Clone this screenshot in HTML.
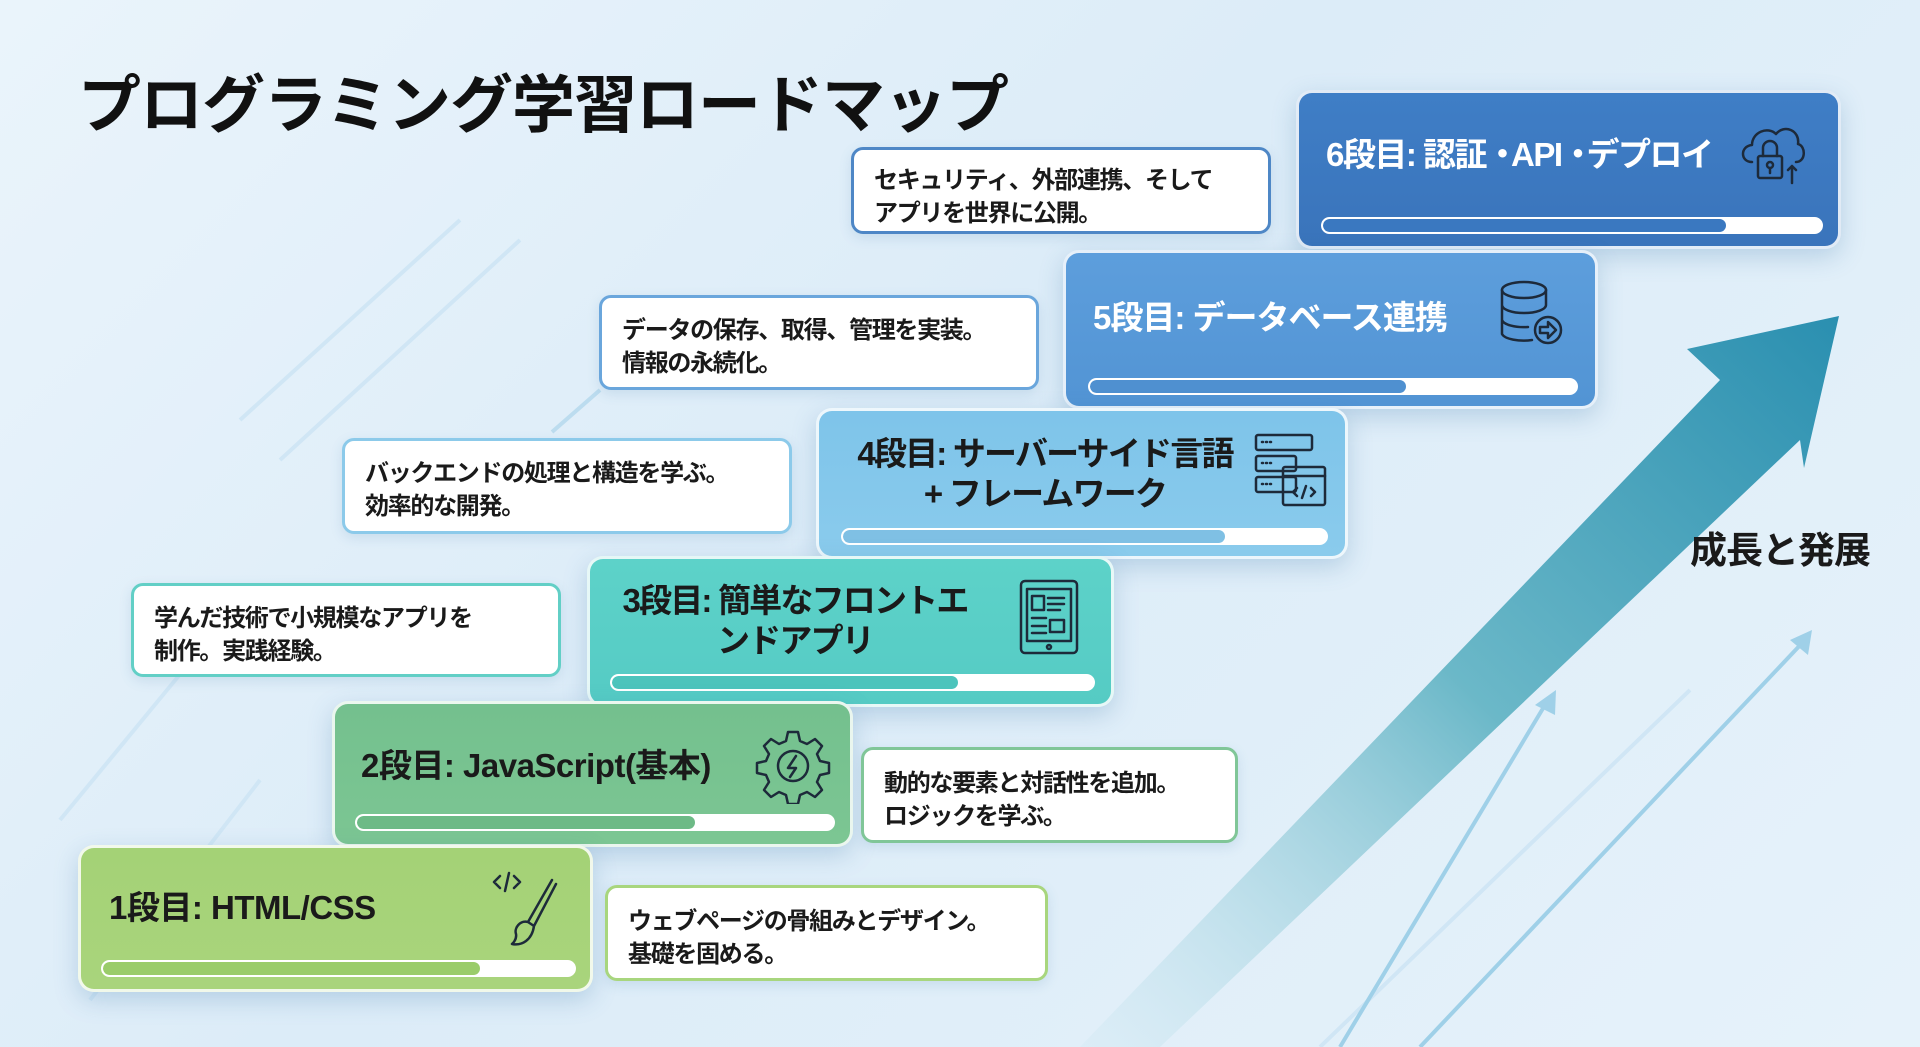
<!DOCTYPE html>
<html><head><meta charset="utf-8"><style>
*{margin:0;padding:0;box-sizing:border-box}
body{width:1920px;height:1047px;overflow:hidden;font-family:"Liberation Sans","Noto Sans CJK JP",sans-serif;font-weight:bold;background:linear-gradient(135deg,#eaf4fb 0%,#dcecf8 45%,#e6f2fa 100%);position:relative}
.abs{position:absolute}
.stage{position:absolute;border-radius:16px;border:3px solid rgba(255,255,255,.85);box-shadow:0 8px 24px rgba(60,120,170,.25)}
.stage .t{position:absolute;font-size:33px;line-height:40px;white-space:nowrap;letter-spacing:-1px}
.bar{position:absolute;height:17px;border-radius:9px;background:#fff;border:2px solid #fff;overflow:hidden}
.bar i{display:block;height:100%;border-radius:8px}
.desc{position:absolute;background:#fff;border-radius:12px;border:3px solid;font-size:24px;line-height:33px;padding:14px 0 0 20px;color:#1a1a1a;box-shadow:0 4px 12px rgba(60,120,170,.15);white-space:nowrap;letter-spacing:-1.3px}
svg.ic{position:absolute;fill:none;stroke:#1d2a3a;stroke-width:2.5;stroke-linecap:round;stroke-linejoin:round}
.n{letter-spacing:-8px}
</style></head><body>
<svg class="abs" style="left:0;top:0" width="1920" height="1047">
<defs>
<linearGradient id="ag" x1="0" y1="1" x2="1" y2="0"><stop offset="0" stop-color="#cfe8f2" stop-opacity=".3"/><stop offset=".5" stop-color="#6bb8c8"/><stop offset="1" stop-color="#2a8fb0"/></linearGradient>
</defs>
<g stroke="#cfe6f5" stroke-width="4" opacity=".9">
<line x1="240" y1="420" x2="460" y2="220"/><line x1="280" y1="460" x2="520" y2="240"/>
<line x1="90" y1="1000" x2="260" y2="780"/><line x1="60" y1="820" x2="200" y2="650"/>
<line x1="1320" y1="1047" x2="1690" y2="690"/>
</g>
<polygon points="1080,1047 1160,1047 1800,440 1804,468 1839,316 1687,349 1720,380" fill="url(#ag)"/>
<g stroke="#9fd0e8" stroke-width="4" fill="#9fd0e8">
<line x1="1340" y1="1047" x2="1548" y2="700"/><polygon points="1556,690 1535,705 1555,715" stroke="none"/>
<line x1="1420" y1="1047" x2="1805" y2="640"/><polygon points="1812,630 1790,640 1808,655" stroke="none"/>
</g>
<line x1="600" y1="390" x2="552" y2="432" stroke="#bcdcef" stroke-width="4"/>
</svg>

<div class="abs" style="left:78px;top:66px;font-size:63px;line-height:80px;color:#111;letter-spacing:-1px">プログラミング学習ロードマップ</div>
<div class="abs" style="left:1690px;top:528px;font-size:37px;line-height:46px;color:#1a1a1a;letter-spacing:-1px">成長と発展</div>

<div class="stage" style="left:1296px;top:90px;width:545px;height:159px;background:linear-gradient(180deg,#3f7ec6,#3a74bb)">
<div class="t" style="left:27px;top:42px;color:#fff;letter-spacing:-1.5px">6段目: 認証<span class="n">・</span>API<span class="n">・</span>デプロイ</div>
<div class="bar" style="left:22px;top:124px;width:502px"><i style="width:81%;background:#3a78c0"></i></div>
</div>
<svg class="ic" style="left:1738px;top:118px" width="70" height="75" viewBox="0 0 70 75"><path d="M14 44 C2 44 2 28 14 27 C14 14 30 8 38 16 C46 6 62 12 60 26 C68 28 68 44 58 44"/><rect x="20" y="38" width="24" height="22" rx="2"/><path d="M25 38 V30 a7 7 0 0 1 14 0 V38"/><circle cx="32" cy="47" r="3"/><path d="M32 50 v5 M54 65 V48 M50 52 l4 -4 4 4"/></svg>

<div class="stage" style="left:1063px;top:250px;width:535px;height:159px;background:linear-gradient(180deg,#5d9edc,#5294d4)">
<div class="t" style="left:27px;top:45px;color:#fff">5段目: データベース連携</div>
<div class="bar" style="left:22px;top:125px;width:490px"><i style="width:65%;background:#4f90d0"></i></div>
</div>
<svg class="ic" style="left:1500px;top:280px" width="70" height="70" viewBox="0 0 70 70"><ellipse cx="24" cy="10" rx="22" ry="8"/><path d="M2 10 V54 a22 8 0 0 0 30 6 M2 25 a22 8 0 0 0 44 0 V10 M2 40 a22 8 0 0 0 26 7"/><circle cx="48" cy="50" r="13"/><path d="M40 47 h8 v-5 l8 8 -8 8 v-5 h-8z"/></svg>

<div class="stage" style="left:816px;top:408px;width:532px;height:151px;background:linear-gradient(180deg,#7ec4ea,#8acbec)">
<div class="t" style="left:26px;top:23px;color:#1a1a1a;width:400px;text-align:center;letter-spacing:-1.8px">4段目: サーバーサイド言語<br>+ フレームワーク</div>
<div class="bar" style="left:22px;top:117px;width:487px"><i style="width:79%;background:#7fc0e4"></i></div>
</div>
<svg class="ic" style="left:1253px;top:432px" width="76" height="76" viewBox="0 0 76 76"><rect x="3" y="3" width="56" height="15" rx="2"/><rect x="3" y="24" width="40" height="15" rx="2"/><rect x="3" y="45" width="40" height="15" rx="2"/><rect x="30" y="35" width="42" height="38" rx="2"/><path d="M30 44 h42 M44 56 l-4 4 4 4 M58 56 l4 4 -4 4 M53 54 l-4 12 M9 10h1 M13 10h1 M17 10h1 M9 31h1 M13 31h1 M17 31h1 M9 52h1 M13 52h1 M17 52h1"/></svg>

<div class="stage" style="left:587px;top:556px;width:527px;height:151px;background:linear-gradient(180deg,#5dd2c9,#55cbc4)">
<div class="t" style="left:25px;top:22px;color:#1a1a1a;width:360px;text-align:center;letter-spacing:-1.8px">3段目: 簡単なフロントエ<br>ンドアプリ</div>
<div class="bar" style="left:20px;top:115px;width:485px"><i style="width:72%;background:#4cc4bc"></i></div>
</div>
<svg class="ic" style="left:1018px;top:578px" width="64" height="80" viewBox="0 0 64 80"><rect x="3" y="3" width="56" height="72" rx="4"/><rect x="9" y="11" width="44" height="52"/><circle cx="31" cy="69" r="2"/><rect x="14" y="18" width="12" height="14"/><path d="M30 20 h16 M30 26 h16 M30 32 h12 M14 40 h14 M14 48 h14 M14 55 h14"/><rect x="32" y="42" width="14" height="12"/></svg>

<div class="stage" style="left:332px;top:701px;width:521px;height:146px;background:linear-gradient(180deg,#74c08e,#7cc693)">
<div class="t" style="left:26px;top:42px;color:#1a1a1a;letter-spacing:-0.5px">2段目: JavaScript(基本)</div>
<div class="bar" style="left:20px;top:110px;width:480px"><i style="width:71%;background:#6dba86"></i></div>
</div>
<svg class="ic" style="left:755px;top:728px" width="76" height="76" viewBox="0 0 76 76"><path d="M33 4 h10 l2 9 7 3 8-5 7 7 -5 8 3 7 9 2 v10 l-9 2 -3 7 5 8 -7 7 -8-5 -7 3 -2 9 h-10 l-2-9 -7-3 -8 5 -7-7 5-8 -3-7 -9-2 v-10 l9-2 3-7 -5-8 7-7 8 5 7-3z"/><circle cx="38" cy="38" r="15"/><path d="M41 28 l-8 12 h8 l-6 9"/></svg>

<div class="stage" style="left:78px;top:845px;width:515px;height:147px;background:linear-gradient(180deg,#a4d276,#a9d47c)">
<div class="t" style="left:28px;top:40px;color:#1a1a1a;letter-spacing:-0.5px">1段目: HTML/CSS</div>
<div class="bar" style="left:20px;top:112px;width:475px"><i style="width:80%;background:#9acc6a"></i></div>
</div>
<svg class="ic" style="left:490px;top:870px" width="70" height="80" viewBox="0 0 70 80"><path d="M10 6 l-6 6 6 6 M24 6 l6 6 -6 6 M19 3 l-4 18 M62 10 L38 52 M66 14 L44 56 M38 52 c-8 -2 -14 6 -12 12 c1 6 -4 10 -4 10 c10 2 20 -4 22 -18z"/></svg>

<div class="desc" style="left:851px;top:147px;width:420px;height:87px;border-color:#4e87c6">セキュリティ、外部連携、そして<br>アプリを世界に公開。</div>
<div class="desc" style="left:599px;top:295px;width:440px;height:95px;border-color:#6aa6dc;padding-top:16px">データの保存、取得、管理を実装。<br>情報の永続化。</div>
<div class="desc" style="left:342px;top:438px;width:450px;height:96px;border-color:#8ccaea;padding-top:16px">バックエンドの処理と構造を学ぶ。<br>効率的な開発。</div>
<div class="desc" style="left:131px;top:583px;width:430px;height:94px;border-color:#62cfc6;padding-top:16px">学んだ技術で小規模なアプリを<br>制作。実践経験。</div>
<div class="desc" style="left:861px;top:747px;width:377px;height:96px;border-color:#80c698;padding-top:17px">動的な要素と対話性を追加。<br>ロジックを学ぶ。</div>
<div class="desc" style="left:605px;top:885px;width:443px;height:96px;border-color:#a8d67e;padding-top:17px">ウェブページの骨組みとデザイン。<br>基礎を固める。</div>
</body></html>
